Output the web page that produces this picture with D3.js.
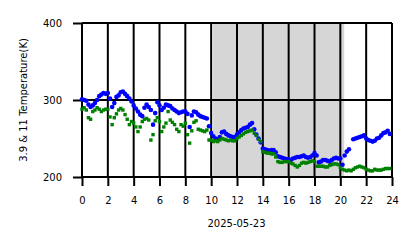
<!DOCTYPE html>
<html><head><meta charset="utf-8">
<script src="https://cdn.jsdelivr.net/npm/d3@7"></script>
<style>body{margin:0;background:#fff}svg{display:block}text{font-family:"DejaVu Sans",sans-serif}</style>
</head><body><svg id="c" width="418" height="248"></svg>
<script>
const dateLabel = "2025-05-23";
const yLabel = "3.9 & 11 Temperature(K)";
const xTicks = [0,2,4,6,8,10,12,14,16,18,20,22,24];
const yTicks = [200,300,400];
const nightSpan = [10.15, 20.3];
// 10-minute samples (hours since 00:00)
const hours = d3.range(144).map(i => i / 6);
const blue39 = [
301,300,299,294,291,293, 296,300,305,307,309,308, 309,302,291,296,304,306,
310,311,308,305,302,298, 293,289,285,281,279,290, 294,291,287,268,283,297,
293,287,290,294,293,292, 289,287,285,283,284,285, 285,282,265,280,285,284,
281,279,278,277,276,266, 257,253,250,249,252,258, 259,256,254,253,252,252,
255,258,261,263,264,265, 268,270,262,255,250,245, 237,236,235,234,235,235,
232,227,226,225,224,223, 223,222,224,225,226,226, 227,228,226,225,226,228,
231,228,219,220,222,222, 221,220,222,224,225,224, 224,216,228,233,236,null,
249,250,251,252,253,254, 250,248,247,246,247,250, 251,254,257,258,260,256];
const green11 = [
288,290,287,277,275,285, 287,290,288,285,287,288, 288,278,268,277,282,287,
289,287,281,275,268,272, 270,265,259,265,272,275, 276,274,248,255,273,277,
272,259,265,270,285,274, 271,268,262,259,268,266, 270,255,244,260,271,273,
262,261,260,259,261,248, 248,246,247,246,248,250, 249,248,247,248,247,247,
250,252,254,256,258,259, 260,261,257,254,249,246, 233,232,231,231,230,230,
226,220,219,219,220,220, 220,218,217,215,213,215, 218,219,218,219,220,221,
220,214,214,214,214,213, 213,215,216,217,217,216, 212,210,209,208,209,208,
210,212,213,214,213,212, 210,209,208,208,210,209, 209,209,210,211,211,211];

const svg = d3.select("#c");
const L = 82, R = 392, T = 23, B = 177;
const x = d3.scaleLinear().domain([0,24]).range([L,R]);
const y = d3.scaleLinear().domain([200,400]).range([B,T]);

// night shading
svg.append("rect").attr("x", x(nightSpan[0])).attr("y", T)
  .attr("width", x(nightSpan[1]) - x(nightSpan[0])).attr("height", B - T)
  .attr("fill", "#d6d6d6");

// grid
const g = svg.append("g");
g.selectAll("line.v").data(xTicks).join("line")
  .attr("x1", d => x(d)).attr("x2", d => x(d)).attr("y1", T).attr("y2", B)
  .attr("stroke", "#000").attr("stroke-width", 2);
g.selectAll("line.h").data(yTicks).join("line")
  .attr("x1", L).attr("x2", R).attr("y1", d => y(d)).attr("y2", d => y(d))
  .attr("stroke", "#000").attr("stroke-width", 2);

// axes
const xa = svg.append("g").attr("transform", `translate(0,${B})`)
  .call(d3.axisBottom(x).tickValues(xTicks).tickSize(9).tickPadding(11).tickFormat(d3.format("d")));
const ya = svg.append("g").attr("transform", `translate(${L},0)`)
  .call(d3.axisLeft(y).tickValues(yTicks).tickSize(9).tickPadding(11));
[xa, ya].forEach(a => {
  a.select(".domain").remove();
  a.selectAll(".tick line").attr("stroke", "#000").attr("stroke-width", 2);
  a.selectAll(".tick text").attr("font-size", 10).attr("fill", "#000")
    .attr("font-family", "DejaVu Sans, sans-serif");
});

svg.append("text").attr("x", 236.5).attr("y", 227).attr("text-anchor", "middle")
  .attr("font-size", 10).text(dateLabel);
svg.append("text").attr("transform", `translate(27,100) rotate(-90)`)
  .attr("text-anchor", "middle").attr("font-size", 10).text(yLabel);

// data
const bd = hours.map((h,i) => [h, blue39[i]]).filter(d => d[1] != null);
const gd = hours.map((h,i) => [h, green11[i]]).filter(d => d[1] != null);
svg.append("g").selectAll("circle").data(bd).join("circle")
  .attr("cx", d => x(d[0])).attr("cy", d => y(d[1])).attr("r", 2.3).attr("fill", "#0000ff");
svg.append("g").selectAll("rect").data(gd).join("rect")
  .attr("x", d => x(d[0]) - 1.7).attr("y", d => y(d[1]) - 1.7)
  .attr("width", 3.4).attr("height", 3.4).attr("fill", "#008000");
</script></body></html>
